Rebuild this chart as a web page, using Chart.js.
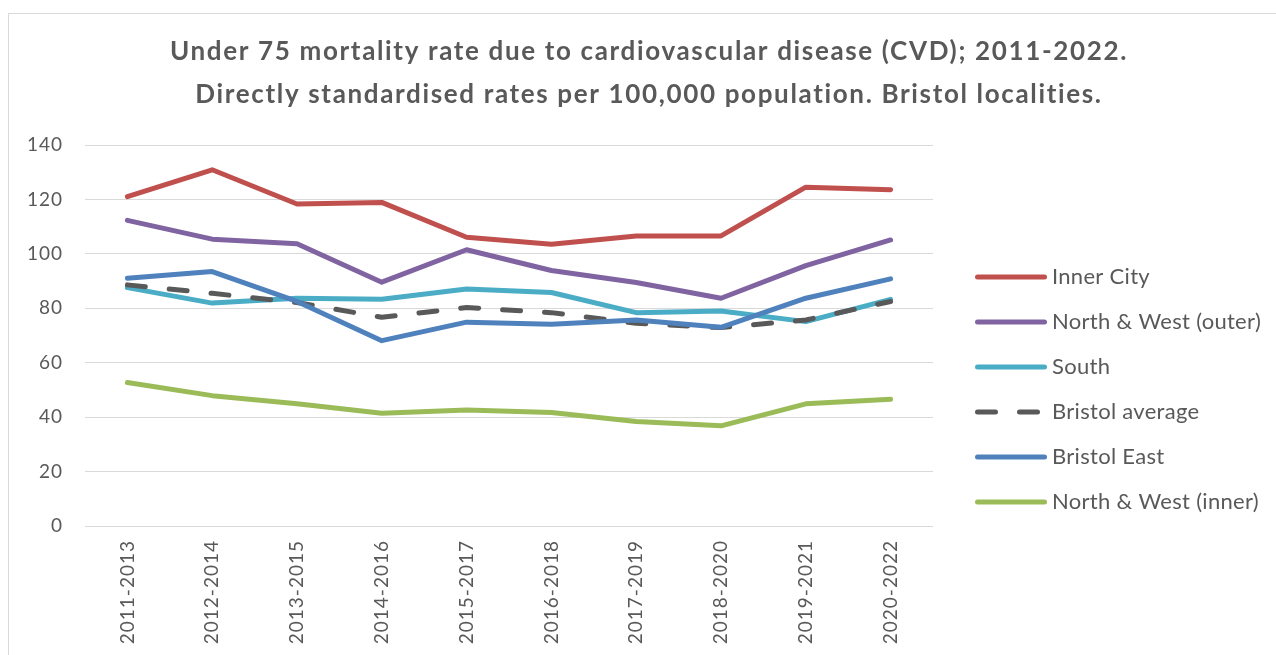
<!DOCTYPE html>
<html>
<head>
<meta charset="utf-8">
<script src="https://cdn.jsdelivr.net/npm/chart.js@4.4.1/dist/chart.umd.min.js"></script>
<style>
  html, body { margin: 0; padding: 0; background: #fff; }
  #wrap { width: 1276px; height: 655px; }
</style>
</head>
<body>
<div id="wrap"><canvas id="cvdChart" width="1276" height="655"></canvas></div>
<script>
const periods = ['2011-2013', '2012-2014', '2013-2015', '2014-2016', '2015-2017',
                 '2016-2018', '2017-2019', '2018-2020', '2019-2021', '2020-2022'];
const innerCity      = [121.0, 130.9, 118.3, 118.9, 106.1, 103.5, 106.6, 106.6, 124.5, 123.6];
const northWestOuter = [112.3, 105.4, 103.7, 89.6, 101.5, 93.9, 89.5, 83.7, 95.7, 105.1];
const south          = [87.6, 81.9, 83.7, 83.3, 87.1, 85.8, 78.4, 79.0, 75.1, 83.3];
const bristolAverage = [88.6, 85.5, 82.1, 76.7, 80.3, 78.4, 74.5, 72.9, 75.7, 82.5];
const bristolEast    = [91.0, 93.5, 82.5, 68.1, 74.9, 74.1, 75.7, 73.0, 83.7, 90.8];
const northWestInner = [52.7, 47.9, 44.9, 41.4, 42.6, 41.7, 38.4, 36.8, 44.9, 46.6];
const yTicks = [0, 20, 40, 60, 80, 100, 120, 140];

const titleLines = [
    'Under 75 mortality rate due to cardiovascular disease (CVD); 2011-2022.',
    'Directly standardised rates per 100,000 population. Bristol localities.'
];
const textGrey = '#595959';

function series(label, data, color, order, dash) {
    return {
        label: label,
        data: data,
        borderColor: color,
        backgroundColor: color,
        borderWidth: 5,
        borderDash: dash || [],
        borderCapStyle: 'round',
        borderJoinStyle: 'round',
        pointRadius: 0,
        pointHoverRadius: 0,
        tension: 0,
        fill: false,
        order: order
    };
}

// frame, title and legend are drawn by hand so they sit where Excel put them
const decorations = {
    id: 'decorations',
    beforeDraw(chart) {
        const ctx = chart.ctx;
        ctx.save();
        ctx.fillStyle = '#fff';
        ctx.fillRect(0, 0, chart.width, chart.height);
        ctx.strokeStyle = '#d9d9d9';
        ctx.lineWidth = 1;
        ctx.strokeRect(8.5, 13.5, 1400, 800);
        ctx.restore();
        // Excel's Calibri sits a bit looser than Lato, widen the tick text
        ctx.letterSpacing = '1px';
    },
    afterDraw(chart) {
        const ctx = chart.ctx;
        ctx.save();
        ctx.fillStyle = textGrey;
        ctx.font = 'bold 26px Lato';
        ctx.letterSpacing = '1.65px';
        ctx.textAlign = 'center';
        ctx.textBaseline = 'middle';
        ctx.fillText(titleLines[0], 649, 52);
        ctx.fillText(titleLines[1], 649, 95);

        ctx.font = '22px Lato';
        ctx.letterSpacing = '0.3px';
        ctx.textAlign = 'left';
        chart.data.datasets.forEach(function(ds, i) {
            const y = 277 + i * 45;
            ctx.strokeStyle = ds.borderColor;
            ctx.lineWidth = 5;
            ctx.lineCap = 'round';
            ctx.setLineDash(ds.borderDash);
            ctx.beginPath();
            ctx.moveTo(977.5, y);
            ctx.lineTo(ds.borderDash.length ? 1037.5 : 1044.5, y);
            ctx.stroke();
            ctx.setLineDash([]);
            ctx.fillText(ds.label, 1052, y);
        });
        ctx.restore();
        ctx.letterSpacing = '0px';
    }
};

new Chart(document.getElementById('cvdChart').getContext('2d'), {
    type: 'line',
    data: {
        labels: periods,
        datasets: [
            series('Inner City', innerCity, '#c0504d', 4),
            series('North & West (outer)', northWestOuter, '#8064a2', 5),
            series('South', south, '#4bacc6', 3),
            series('Bristol average', bristolAverage, '#595959', 2, [18, 24]),
            series('Bristol East', bristolEast, '#4f81bd', 1),
            series('North & West (inner)', northWestInner, '#9bbb59', 6)
        ]
    },
    options: {
        responsive: false,
        animation: false,
        devicePixelRatio: 1,
        layout: {
            padding: { top: 145, right: 343, left: 0, bottom: 0 }
        },
        plugins: {
            legend: { display: false },
            title: { display: false },
            tooltip: { enabled: false }
        },
        scales: {
            x: {
                offset: true,
                grid: { display: false },
                border: { display: false },
                ticks: {
                    color: textGrey,
                    font: { family: 'Lato', size: 19 },
                    minRotation: 90,
                    maxRotation: 90,
                    padding: 6
                },
                afterFit: function(scale) { scale.height = 129; }
            },
            y: {
                min: 0,
                max: 140,
                afterBuildTicks: function(scale) {
                    scale.ticks = yTicks.map(v => ({ value: v }));
                },
                grid: { color: '#d9d9d9', lineWidth: 1, drawTicks: false },
                border: { display: false },
                ticks: {
                    color: textGrey,
                    font: { family: 'Lato', size: 19 },
                    padding: 22
                },
                afterFit: function(scale) { scale.width = 85; }
            }
        }
    },
    plugins: [decorations]
});
</script>
</body>
</html>
